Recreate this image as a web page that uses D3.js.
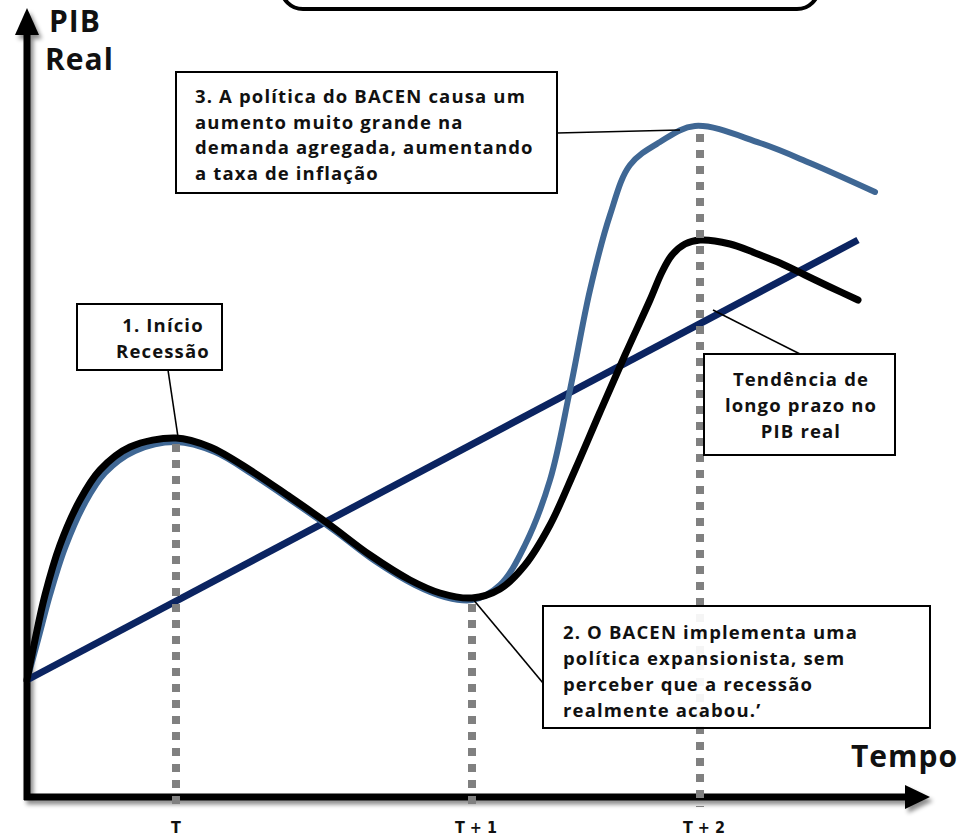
<!DOCTYPE html>
<html>
<head>
<meta charset="utf-8">
<script src="https://cdn.jsdelivr.net/npm/d3@7"></script>
<style>
  html, body { margin: 0; padding: 0; background: #fff; }
  svg { display: block; }
  .lbl { font-family: "Open Sans", "Lato", sans-serif; font-weight: 700; fill: #111; }
  .tick { font-family: "Liberation Sans Narrow", "DejaVu Sans Condensed", sans-serif; font-weight: 700; fill: #111; }
</style>
</head>
<body>
<script>
// Time runs along x (arbitrary units), real GDP along y.
const trendLine = [[0, 11.7], [83.1, 55.7]];

const gdpActual = [
  [0, 11.7], [0.8, 15.7], [1.8, 20.2], [3.3, 25.2], [5.3, 29.7], [7.3, 32.7],
  [10.3, 35.0], [14.9, 35.9], [18.3, 35.0], [22.3, 32.7], [26.3, 30.0],
  [30.3, 27.2], [34.3, 24.2], [38.3, 21.7], [41.3, 20.4], [44.5, 19.9],
  [47.3, 20.8], [49.8, 23.2], [52.3, 27.2], [54.8, 32.7], [57.3, 38.5],
  [59.8, 44.2], [62.3, 49.7], [63.5, 52.5], [64.5, 54.2], [65.8, 55.3],
  [67.3, 55.7], [70.3, 55.3], [72.8, 54.4], [75.3, 53.4], [77.8, 52.2],
  [80.3, 51.0], [83.1, 49.7]
];

const gdpWithPolicy = [
  [0, 11.7], [1.1, 15.7], [2.3, 20.2], [3.8, 24.9], [5.8, 29.4], [7.8, 32.4],
  [10.8, 34.6], [14.9, 35.5], [18.8, 34.5], [22.8, 32.1], [26.8, 29.4],
  [30.8, 26.6], [34.8, 23.6], [38.8, 21.2], [41.8, 20.0], [44.5, 19.7],
  [47.3, 21.2], [49.8, 25.2], [52.3, 31.7], [54.3, 40.7], [56.3, 50.7],
  [58.3, 58.2], [60.3, 63.2], [63.3, 65.5], [66.8, 67.1], [73.3, 65.4],
  [78.3, 63.4], [84.8, 60.5]
];

const tickLabels = ["T", "T + 1", "T + 2"];
const tickTimes = [14.9, 44.5, 67.3];
const guideTops = [35.9, 19.9, 66.9];

const notes = [
  { lines: ["3. A política do BACEN causa um", "aumento muito grande na", "demanda agregada, aumentando", "a taxa de inflação"] },
  { lines: ["1. Início", "Recessão"] },
  { lines: ["Tendência de", "longo prazo no", "PIB real"] },
  { lines: ["2. O BACEN implementa uma", "política expansionista, sem", "perceber que a recessão", "realmente acabou.’"] }
];

const W = 961, H = 836;
const svg = d3.select("body").append("svg").attr("width", W).attr("height", H);

const x = d3.scaleLinear().domain([0, 90.3]).range([27, 930]);
const y = d3.scaleLinear().domain([0, 78]).range([797, 17]);

const defs = svg.append("defs");
const sh = defs.append("filter").attr("id", "shadow")
  .attr("x", "-10%").attr("y", "-10%").attr("width", "130%").attr("height", "130%");
sh.append("feDropShadow").attr("dx", 3).attr("dy", 4).attr("stdDeviation", 2)
  .attr("flood-color", "#000").attr("flood-opacity", 0.45);

// Title frame at the top edge
svg.append("rect")
  .attr("x", 281).attr("y", -40).attr("width", 538).attr("height", 49)
  .attr("rx", 22).attr("fill", "#fff").attr("stroke", "#000").attr("stroke-width", 4);

// Axes with arrowheads
const axes = svg.append("g").attr("filter", "url(#shadow)");
axes.append("line").attr("x1", x(0)).attr("x2", x(0)).attr("y1", y(0) + 3).attr("y2", 30)
  .attr("stroke", "#000").attr("stroke-width", 7);
axes.append("path").attr("d", `M${x(0)},8 L${x(0) + 12},35 L${x(0) - 12},35 Z`).attr("fill", "#000");
axes.append("line").attr("x1", x(0) - 3).attr("x2", 908).attr("y1", y(0)).attr("y2", y(0))
  .attr("stroke", "#000").attr("stroke-width", 7);
axes.append("path").attr("d", `M930,${y(0)} L905,${y(0) - 12} L905,${y(0) + 12} Z`).attr("fill", "#000");

// Axis titles
svg.append("text").attr("class", "lbl").attr("x", 49).attr("y", 32).attr("font-size", 30)
  .attr("letter-spacing", 1).text("PIB");
svg.append("text").attr("class", "lbl").attr("x", 45).attr("y", 70).attr("font-size", 30)
  .attr("letter-spacing", 1).text("Real");
svg.append("text").attr("class", "lbl").attr("x", 851).attr("y", 767).attr("font-size", 30)
  .attr("letter-spacing", 1).text("Tempo");

// Time ticks
svg.selectAll("text.tick").data(tickLabels).join("text")
  .attr("class", "tick")
  .attr("x", (d, i) => x(tickTimes[i]) + (i ? 4 : 0))
  .attr("y", 833)
  .attr("text-anchor", "middle")
  .attr("font-size", 16)
  .text(d => d);

const line = d3.line().x(d => x(d[0])).y(d => y(d[1])).curve(d3.curveCatmullRom.alpha(0.5));

svg.append("path").datum(trendLine).attr("d", line).attr("fill", "none")
  .attr("stroke", "#0b2461").attr("stroke-width", 7);
svg.append("path").datum(gdpWithPolicy).attr("d", line).attr("fill", "none")
  .attr("stroke", "#3f6794").attr("stroke-width", 6).attr("stroke-linecap", "round");
svg.append("path").datum(gdpActual).attr("d", line).attr("fill", "none")
  .attr("stroke", "#000").attr("stroke-width", 7).attr("stroke-linecap", "round");

// Dotted guides from each turning point down to the time axis
svg.selectAll("line.guide").data(tickTimes).join("line")
  .attr("class", "guide")
  .attr("x1", d => x(d)).attr("x2", d => x(d))
  .attr("y1", (d, i) => y(guideTops[i]) + 6).attr("y2", y(0) + 10)
  .attr("stroke", "#808080").attr("stroke-width", 8).attr("stroke-dasharray", "8,8");

// Leader lines
const leaders = [
  [[557, 133], [x(65.3), y(66.9) + 2]],
  [[168, 370], [x(15.1), y(35.9) - 1]],
  [[800, 354], [x(68.6), y(48.7)]],
  [[543, 683], [x(44.5), y(19.9)]]
];
svg.selectAll("line.leader").data(leaders).join("line")
  .attr("class", "leader")
  .attr("x1", d => d[0][0]).attr("y1", d => d[0][1])
  .attr("x2", d => d[1][0]).attr("y2", d => d[1][1])
  .attr("stroke", "#000").attr("stroke-width", 1.6);

// Annotation boxes
const boxes = [
  { x: 176, y: 72, w: 381, h: 121, anchor: "start", tx: 195, ty: 103, lh: 25.5, op: 1 },
  { x: 77, y: 304, w: 145, h: 66, anchor: "middle", tx: 163, ty: 332, lh: 25.5, op: 1 },
  { x: 704, y: 354, w: 191, h: 101, anchor: "middle", tx: 801, ty: 386, lh: 26, op: 1 },
  { x: 543, y: 606, w: 387, h: 122, anchor: "start", tx: 563, ty: 639, lh: 26, op: 0.92 }
];
boxes.forEach((b, i) => {
  const g = svg.append("g");
  g.append("rect").attr("x", b.x).attr("y", b.y).attr("width", b.w).attr("height", b.h)
    .attr("fill", "#fff").attr("fill-opacity", b.op).attr("stroke", "#000").attr("stroke-width", 2);
  g.selectAll("text").data(notes[i].lines).join("text")
    .attr("class", "lbl")
    .attr("x", b.tx).attr("y", (d, j) => b.ty + j * b.lh)
    .attr("text-anchor", b.anchor)
    .attr("font-size", 18.5)
    .attr("letter-spacing", 1.15)
    .text(d => d);
});
</script>
</body>
</html>
